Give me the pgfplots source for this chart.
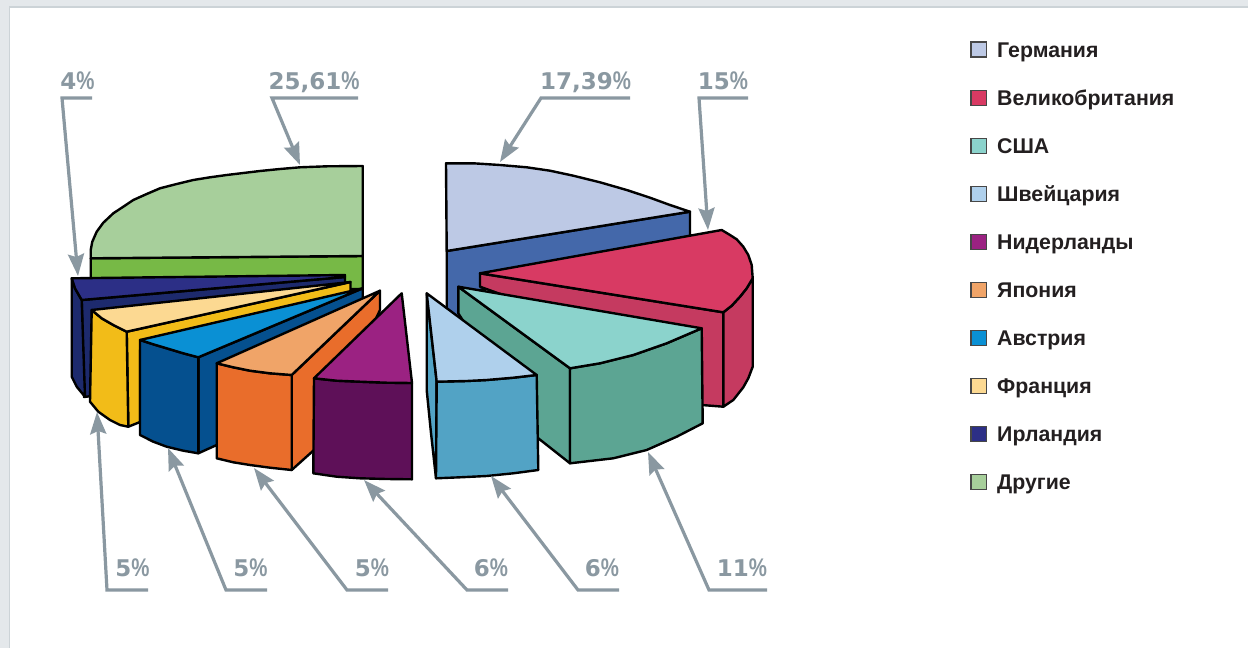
\documentclass[border=0pt]{standalone}
\usepackage{pgfplots}
\pgfplotsset{compat=1.18}
\usepackage{graphicx}
\usepackage{fontspec}
\setmainfont{Liberation Sans}
\newfontfamily\digitfont{DejaVu Sans}
\usetikzlibrary{arrows.meta}
\definecolor{pct}{HTML}{8A98A1}
\definecolor{panel}{HTML}{E4E8EB}
\definecolor{panelline}{HTML}{CCD3D7}
\definecolor{legendtext}{HTML}{231F20}
\definecolor{geT}{HTML}{BDC9E5}\definecolor{geS}{HTML}{4468AA}
\definecolor{gbT}{HTML}{D83A63}\definecolor{gbS}{HTML}{C53A60}
\definecolor{usT}{HTML}{8BD3CC}\definecolor{usS}{HTML}{5CA593}
\definecolor{chT}{HTML}{AFD0EC}\definecolor{chS}{HTML}{52A3C5}
\definecolor{nlT}{HTML}{9B2282}\definecolor{nlS}{HTML}{5E1058}
\definecolor{jpT}{HTML}{F0A468}\definecolor{jpS}{HTML}{E96D2B}
\definecolor{atT}{HTML}{0A90D4}\definecolor{atS}{HTML}{05508F}
\definecolor{frT}{HTML}{FCD992}\definecolor{frS}{HTML}{F2BC18}
\definecolor{ieT}{HTML}{2C2F86}\definecolor{ieS}{HTML}{1D2A6D}
\definecolor{otT}{HTML}{A7CF9B}\definecolor{otS}{HTML}{77B946}
% one face of a slice, outlined in black
\newcommand{\face}[2]{\addplot[fill=#1,draw=black,line width=2.4pt,line join=round] coordinates {#2} -- cycle;}
% a leader: shelf under the label, then a shaft ending in a head
\newcommand{\leader}[3]{%
  \addplot[draw=pct,line width=3.2pt,line join=miter,-{Stealth[length=22pt,width=16pt,inset=3pt]}] coordinates {#1 #2 #3};}
% value label: wide bold digits with a condensed percent sign
\newcommand{\pct}[2]{\node[anchor=base,inner sep=0pt,text=pct,font=\fontsize{23}{24}\bfseries] at (axis cs:#1) {{\digitfont #2}\scalebox{0.8}[1]{\fontsize{25.5}{26}\selectfont\%}};}
\newcommand{\legrow}[3]{%
  \addplot[fill=#1,draw=black!72,line width=1.4pt] coordinates {(971,#2-7.5) (986.5,#2-7.5) (986.5,#2+7.5) (971,#2+7.5)} -- cycle;
  \node[anchor=base west,inner sep=0pt,text=legendtext,font=\fontsize{21.3}{22}\bfseries] at (axis cs:997,#2+7.5) {#3};}
\begin{document}
\begin{tikzpicture}
\begin{axis}[
  width=1248pt,height=648pt,scale only axis,
  xmin=0,xmax=1248,ymin=0,ymax=648,y dir=reverse,
  hide axis,no markers,clip=true]
% page frame
\addplot[fill=panel,draw=none] coordinates {(0,0) (1248,0) (1248,648) (0,648)} -- cycle;
\addplot[fill=white,draw=none] coordinates {(9,7) (1248,7) (1248,648) (9,648)} -- cycle;
\addplot[draw=panelline,line width=1.2pt] coordinates {(9.5,648) (9.5,7) (1248,7)};

% Другие
\face{otS}{(90.7,258.3) (362.7,256) (362.7,289) (90.7,289)}
\face{otT}{(90.7,258.3) (90.7,250) (92.3,241.7) (96.7,231.7) (103.3,222.7) (113.3,213.3) (123.3,206.7) (133.3,200) (146.7,194) (160,188.3) (176.7,184) (193.3,180) (210,177.3) (226.7,175) (243.3,173) (260,171) (280,169) (300,167.3) (326.7,166.3) (362.7,166) (362.7,256)}
% Ирландия
\face{ieS}{(81.7,300) (345,277) (345,284) (92,312) (92,396) (84,397)}
\face{ieS}{(71.7,278.3) (75,288.3) (81.7,300) (85,396.7) (76.7,386.7) (71.7,376.7)}
\face{ieT}{(71.7,278.3) (345,275) (345,277) (81.7,300) (75,288.3)}
% Франция
\face{frS}{(126.7,331.7) (350.5,282) (350.5,292) (140,350) (140,422) (128.3,426.7)}
\face{frS}{(91.7,310) (101.7,318.3) (113.3,325) (126.7,331.7) (128.3,426.7) (120,425) (110,420) (98.3,411.7) (90,401.7)}
\face{frT}{(91.7,310) (101.7,318.3) (113.3,325) (126.7,331.7) (350.5,282)}
% Австрия
\face{atS}{(198.3,357.3) (362.7,288.3) (362.7,310) (216.7,445) (198.3,453.3)}
\face{atS}{(140,340) (153.3,344.3) (166.7,348.3) (183.3,353.3) (198.3,357.3) (198.3,453.3) (183.3,450.7) (166.7,446.7) (153.3,441.7) (140,435)}
\face{atT}{(140,340) (153.3,344.3) (166.7,348.3) (183.3,353.3) (198.3,357.3) (362.7,288.3)}
% Япония
\face{jpS}{(291.7,375) (380,290.7) (380,310) (314,450) (291.7,470)}
\face{jpS}{(216.7,363.3) (233.3,367.3) (250,370.7) (270,373.3) (291.7,375) (291.7,470) (270,467.7) (250,465) (233.3,462.3) (216.7,458.3)}
\face{jpT}{(216.7,363.3) (233.3,367.3) (250,370.7) (270,373.3) (291.7,375) (380,290.7)}
% Нидерланды
\face{nlS}{(314,378.3) (336.7,380.7) (360,381.7) (386.7,382.7) (412,383) (412,479.3) (386.7,479) (360,478.3) (336.7,476.7) (313.3,473.3)}
\face{nlT}{(401.7,293.3) (314,378.3) (336.7,380.7) (360,381.7) (386.7,382.7) (412,383)}

% Германия
\face{geS}{(446.7,251) (690,211.7) (690,240) (480,290) (458,320) (446.7,320)}
\face{geT}{(446,163.3) (473.3,163.3) (500,165) (526.7,167.3) (550,170.7) (573.3,175.7) (600,182.3) (626.7,190) (650,197.7) (670,205) (690,211.7) (446.7,251)}
% Великобритания
\face{gbS}{(480,273.3) (723.3,312.3) (723.3,406.7) (701.7,405) (600,330) (480,286.7)}
\face{gbS}{(723.3,312.3) (731.7,305.7) (740,296.7) (746.7,288.3) (752.7,278.3) (752.7,366.7) (748.3,378.3) (743.3,387.3) (733.3,400) (723.3,406.7)}
\face{gbT}{(480,273.3) (721.7,230) (730,235) (736.7,239.3) (743.3,246.7) (748.3,255) (751.7,265) (752.7,278.3) (746.7,288.3) (740,296.7) (731.7,305.7) (723.3,312.3)}
% США
\face{usS}{(458.3,286.7) (570,368.3) (570,463.3) (538.3,438.3) (458.3,313.3)}
\face{usS}{(570,368.3) (600,363.3) (633.3,355) (666.7,343.3) (701.7,328.3) (702.7,423.3) (676.7,436.7) (646.7,450) (613.3,458.3) (570,463.3)}
\face{usT}{(458.3,286.7) (570,368.3) (600,363.3) (633.3,355) (666.7,343.3) (701.7,328.3)}
% Швейцария
\face{chS}{(426.7,293.3) (436.7,381.7) (436,478.3) (431,433) (426.7,390)}
\face{chS}{(436.7,381.7) (466.7,381) (486.7,380) (513.3,377.7) (536.7,375) (538.3,470) (513.3,473.3) (486.7,476) (460,477.3) (436,478.3)}
\face{chT}{(426.7,293.3) (436.7,381.7) (466.7,381) (486.7,380) (513.3,377.7) (536.7,375)}

% leaders
\leader{(92,98)}{(62,98)}{(78,276)}
\leader{(358,98)}{(272,98)}{(300,165)}
\leader{(630,98)}{(541,98)}{(500,162)}
\leader{(748,98)}{(699,98)}{(708,230)}
\leader{(148,590)}{(107,590)}{(97,412)}
\leader{(267,590)}{(226,590)}{(168,448)}
\leader{(388,590)}{(347,590)}{(254,468)}
\leader{(508,590)}{(467,590)}{(364,480)}
\leader{(619,590)}{(578,590)}{(491,476)}
\leader{(767,590)}{(709,590)}{(648,452)}

% values
\pct{77.5,89.5}{4}
\pct{314,89.5}{25,61}
\pct{585.5,89.5}{17,39}
\pct{723,89.5}{15}
\pct{132.5,576.5}{5}
\pct{250.5,576.5}{5}
\pct{372,576.5}{5}
\pct{491,576.5}{6}
\pct{602,576.5}{6}
\pct{742,576.5}{11}

% key
\legrow{geT}{49.5}{Германия}
\legrow{gbT}{97.7}{Великобритания}
\legrow{usT}{145.8}{США}
\legrow{chT}{194}{Швейцария}
\legrow{nlT}{242}{Нидерланды}
\legrow{jpT}{290}{Япония}
\legrow{atT}{338}{Австрия}
\legrow{frT}{386}{Франция}
\legrow{ieT}{434}{Ирландия}
\legrow{otT}{482}{Другие}
\end{axis}
\end{tikzpicture}
\end{document}
